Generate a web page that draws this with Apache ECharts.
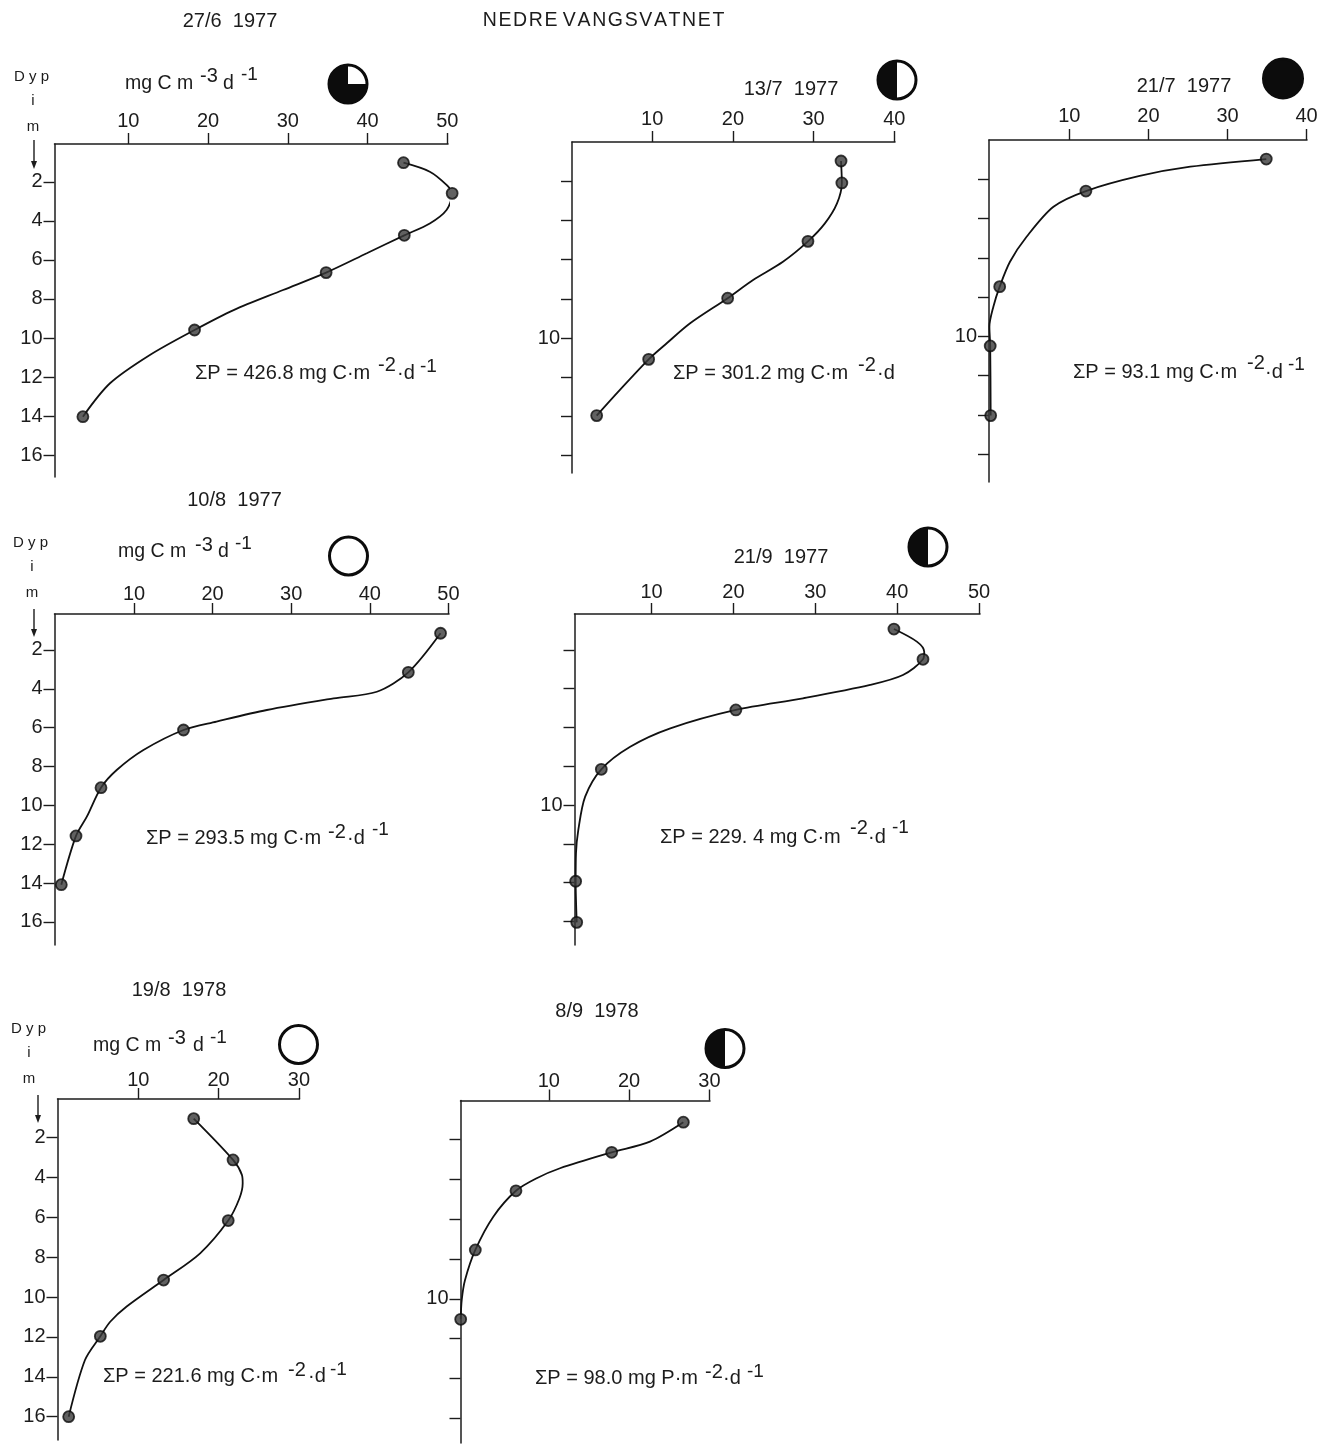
<!DOCTYPE html>
<html>
<head>
<meta charset="utf-8">
<style>html,body{margin:0;padding:0;background:#fff}#chart{width:1330px;height:1444px}</style>
<script src="https://cdn.jsdelivr.net/npm/echarts@6/dist/echarts.min.js"></script>
</head>
<body>
<div id="chart"></div>
<script>
// ---- data ----
const chartTitle = 'N\u200AE\u200AD\u200AR\u200AE V\u200AA\u200AN\u200AG\u200AS\u200AV\u200AA\u200AT\u200AN\u200AE\u200AT';
const depthTicks = [2, 4, 6, 8, 10, 12, 14, 16];
const depthLabelsFull = [2, 4, 6, 8, 10, 12, 14, 16];
const depthLabelsSparse = [10];
const xTicks50 = [10, 20, 30, 40, 50];
const xTicks40 = [10, 20, 30, 40];
const xTicks30 = [10, 20, 30];

// measured stations (production, depth)
const prod_27_6_77 = [44.5, 50.6, 44.6, 34.8, 18.3, 4.3];
const depth_27_6_77 = [1.02, 2.59, 4.74, 6.65, 9.59, 14.03];
const prod_13_7_77 = [33.4, 33.5, 29.3, 19.35, 9.56, 3.12];
const depth_13_7_77 = [0.97, 2.09, 5.07, 7.97, 11.09, 13.96];
const prod_21_7_77 = [34.9, 12.1, 1.2, 0, 0.06];
const depth_21_7_77 = [0.97, 2.6, 7.47, 10.49, 14.04];
const prod_10_8_77 = [49.0, 44.9, 16.3, 5.8, 2.62, 0.75];
const depth_10_8_77 = [1.14, 3.15, 6.12, 9.09, 11.57, 14.08];
const prod_21_9_77 = [39.6, 43.15, 20.3, 3.87, 0.74, 0.87];
const depth_21_9_77 = [0.93, 2.49, 5.1, 8.16, 13.93, 16.05];
const prod_19_8_78 = [16.9, 21.8, 21.2, 13.15, 5.27, 1.33];
const depth_19_8_78 = [1.06, 3.13, 6.17, 9.15, 11.97, 16.0];
const prod_8_9_78 = [26.75, 17.83, 5.92, 0.86, -0.96];
const depth_8_9_78 = [1.14, 2.65, 4.58, 7.55, 11.03];

// hand-drawn curves (production, depth)
const curveProd_27_6_77 = [44.5, 47.8, 49.9, 50.6, 49.9, 47.8, 44.6, 39.9, 34.8, 29.4, 23.2, 18.3, 12.7, 7.7, 4.3];
const curveDepth_27_6_77 = [1.02, 1.48, 2.16, 2.59, 3.44, 4.13, 4.74, 5.66, 6.65, 7.54, 8.57, 9.59, 10.87, 12.32, 14.03];
const curveProd_13_7_77 = [33.4, 33.5, 32.9, 31.4, 29.3, 26.2, 22.5, 19.35, 14.7, 11.8, 9.56, 6.0, 3.12];
const curveDepth_13_7_77 = [0.97, 2.09, 3.13, 4.15, 5.07, 6.11, 7.04, 7.97, 9.25, 10.27, 11.09, 12.65, 13.96];
const curveProd_21_7_77 = [34.9, 25.3, 18.9, 12.1, 8.0, 4.6, 2.5, 1.2, 0.4, -0.1, 0, 0.06];
const curveDepth_21_7_77 = [0.97, 1.36, 1.83, 2.6, 3.4, 4.93, 6.2, 7.47, 8.49, 9.51, 10.49, 14.04];
const curveProd_10_8_77 = [49.0, 44.9, 40.9, 35.4, 26.9, 20.5, 16.3, 11.2, 7.8, 5.8, 4.0, 2.62, 0.75];
const curveDepth_10_8_77 = [1.14, 3.15, 4.15, 4.49, 5.09, 5.69, 6.12, 7.15, 8.18, 9.09, 10.58, 11.57, 14.08];
const curveProd_21_9_77 = [39.6, 42.4, 43.3, 43.15, 40.7, 36.7, 28.5, 20.3, 12.3, 7.4, 3.87, 1.9, 1.06, 0.78, 0.74, 0.87];
const curveDepth_21_9_77 = [0.93, 1.58, 2.1, 2.49, 3.3, 3.81, 4.5, 5.1, 6.05, 7.0, 8.16, 9.57, 11.29, 12.49, 13.93, 16.05];
const curveProd_19_8_78 = [16.9, 21.8, 22.9, 23.0, 22.6, 21.2, 17.7, 13.15, 8.55, 6.5, 5.27, 3.36, 1.33];
const curveDepth_19_8_78 = [1.06, 3.13, 3.88, 4.3, 5.05, 6.17, 7.81, 9.15, 10.48, 11.24, 11.97, 13.16, 16.0];
const curveProd_8_9_78 = [26.75, 22.6, 17.83, 11.4, 8.5, 5.92, 3.1, 0.86, -0.42, -0.83, -0.96];
const curveDepth_8_9_78 = [1.14, 2.11, 2.65, 3.45, 3.95, 4.58, 5.88, 7.55, 9.06, 10.06, 11.03];

// ---- layout of each panel: frame in px, and px position of value 0 + px per unit ----
const panels = [
  {prod: prod_27_6_77, depth: depth_27_6_77, cx: curveProd_27_6_77, cy: curveDepth_27_6_77, xTicks: xTicks50, yLabels: depthLabelsFull, left: 54.5, right: 448, top: 144, bottom: 477, x0: 48.6, xs: 7.975, y0: 142.8, ys: 19.52, lm: 13},
  {prod: prod_13_7_77, depth: depth_13_7_77, cx: curveProd_13_7_77, cy: curveDepth_13_7_77, xTicks: xTicks40, yLabels: depthLabelsSparse, left: 572, right: 895, top: 142, bottom: 473, x0: 571.5, xs: 8.07, y0: 142, ys: 19.6, lm: 13},
  {prod: prod_21_7_77, depth: depth_21_7_77, cx: curveProd_21_7_77, cy: curveDepth_21_7_77, xTicks: xTicks40, yLabels: depthLabelsSparse, left: 989, right: 1307, top: 140, bottom: 482, x0: 990.2, xs: 7.91, y0: 140, ys: 19.63, lm: 14},
  {prod: prod_10_8_77, depth: depth_10_8_77, cx: curveProd_10_8_77, cy: curveDepth_10_8_77, xTicks: xTicks50, yLabels: depthLabelsFull, left: 54.5, right: 449, top: 614, bottom: 945, x0: 55.4, xs: 7.86, y0: 611.1, ys: 19.43, lm: 10},
  {prod: prod_21_9_77, depth: depth_21_9_77, cx: curveProd_21_9_77, cy: curveDepth_21_9_77, xTicks: xTicks50, yLabels: depthLabelsSparse, left: 574.5, right: 980, top: 614, bottom: 945, x0: 569.6, xs: 8.19, y0: 611, ys: 19.4, lm: 12},
  {prod: prod_19_8_78, depth: depth_19_8_78, cx: curveProd_19_8_78, cy: curveDepth_19_8_78, xTicks: xTicks30, yLabels: depthLabelsFull, left: 57.5, right: 299.5, top: 1099, bottom: 1440, x0: 58, xs: 8.03, y0: 1097.5, ys: 19.95, lm: 9},
  {prod: prod_8_9_78, depth: depth_8_9_78, cx: curveProd_8_9_78, cy: curveDepth_8_9_78, xTicks: xTicks30, yLabels: depthLabelsSparse, left: 460.5, right: 710, top: 1100.5, bottom: 1443, x0: 468.4, xs: 8.035, y0: 1099.5, ys: 19.93, lm: 9}
];

const INK = '#1c1c1c';
const FONT = '"Liberation Sans", Arial, sans-serif';
const grid = [], xAxis = [], yAxis = [], series = [];

panels.forEach(function (p, i) {
  grid.push({left: p.left, top: p.top, width: p.right - p.left, height: p.bottom - p.top, containLabel: false});
  xAxis.push({
    type: 'value', gridIndex: i, position: 'top',
    min: (p.left - p.x0) / p.xs, max: (p.right - p.x0) / p.xs,
    splitLine: {show: false},
    axisLine: {show: true, onZero: false, lineStyle: {color: INK, width: 1.5}},
    axisTick: {show: true, inside: false, length: 11, customValues: p.xTicks, lineStyle: {color: INK, width: 1.4}},
    axisLabel: {show: true, margin: p.lm, customValues: p.xTicks, color: INK, fontSize: 20, fontFamily: FONT, hideOverlap: false}
  });
  yAxis.push({
    type: 'value', gridIndex: i, inverse: true, position: 'left',
    min: (p.top - p.y0) / p.ys, max: (p.bottom - p.y0) / p.ys,
    splitLine: {show: false},
    axisLine: {show: true, onZero: false, lineStyle: {color: INK, width: 1.5}},
    axisTick: {show: true, inside: false, length: 11, customValues: depthTicks, lineStyle: {color: INK, width: 1.4}},
    axisLabel: {show: true, margin: 12, customValues: p.yLabels, color: INK, fontSize: 20, fontFamily: FONT, hideOverlap: false}
  });
  series.push({
    type: 'line', xAxisIndex: i, yAxisIndex: i, clip: false, animation: false, silent: true,
    smooth: 0.3, symbol: 'none', z: 3,
    lineStyle: {color: '#111', width: 1.8},
    data: p.cx.map(function (v, k) { return [v, p.cy[k]]; })
  });
  series.push({
    type: 'scatter', xAxisIndex: i, yAxisIndex: i, clip: false, animation: false, silent: true,
    symbol: 'circle', symbolSize: 11, z: 4,
    itemStyle: {color: '#3a3a3a', borderColor: '#0c0c0c', borderWidth: 1.8},
    data: p.prod.map(function (v, k) { return [v, p.depth[k]]; })
  });
});

// ---- annotation helpers ----
const g = [];
function txt(x, y, s, size, align) {
  g.push({type: 'text', x: x, y: y, silent: true, z: 5, style: {text: s, fill: INK, font: (size || 19) + 'px ' + FONT, textAlign: align || 'left', textVerticalAlign: 'middle'}});
}
function moon(cx, cy, r, kind) {
  g.push({type: 'circle', silent: true, z: 4, shape: {cx: cx, cy: cy, r: r - 1.5}, style: {fill: kind === 'full' ? '#0c0c0c' : '#fff', stroke: '#0c0c0c', lineWidth: 3}});
  if (kind === 'half') g.push({type: 'sector', silent: true, z: 4, shape: {cx: cx, cy: cy, r0: 0, r: r - 1, startAngle: Math.PI / 2, endAngle: Math.PI * 1.5, clockwise: true}, style: {fill: '#0c0c0c'}});
  if (kind === 'three') g.push({type: 'sector', silent: true, z: 4, shape: {cx: cx, cy: cy, r0: 0, r: r - 1, startAngle: 0, endAngle: Math.PI * 1.5, clockwise: true}, style: {fill: '#0c0c0c'}});
}
function arrow(x, y1, y2) {
  g.push({type: 'line', silent: true, z: 4, shape: {x1: x, y1: y1, x2: x, y2: y2 - 4}, style: {stroke: INK, lineWidth: 1.4}});
  g.push({type: 'polygon', silent: true, z: 4, shape: {points: [[x - 3, y2 - 8], [x + 3, y2 - 8], [x, y2]]}, style: {fill: INK}});
}
function depthHead(dx, dy, ix, iy, mx, my, ax, a1, a2) {
  txt(dx, dy, 'D y p', 15);
  txt(ix, iy, 'i', 15, 'center');
  txt(mx, my, 'm', 15, 'center');
  arrow(ax, a1, a2);
}
function unit(x, y, x3, y3, xd, xm1, ym1) {
  txt(x, y, 'mg C m', 19.5);
  txt(x3, y3, '-3', 20);
  txt(xd, y, 'd', 19.5);
  txt(xm1, ym1, '-1', 19);
}
function sum(x, y, s, x2, y2, xd, d, xm1, ym1) {
  txt(x, y, s, 20);
  txt(x2, y2, '-2', 20);
  txt(xd, y, d, 20);
  if (xm1) txt(xm1, ym1, '-1', 19);
}
const gap = '  ';

// header
txt(230, 21, '27/6' + gap + '1977', 20, 'center');
txt(603.5, 21, chartTitle, 19.5, 'center');

// panel 1
depthHead(14, 77, 33, 101, 33, 127, 34, 140, 169);
unit(125, 84, 200, 76, 223, 241, 75);
moon(348, 84, 20.5, 'three');
sum(195, 373, '\u03A3P = 426.8 mg C\u00B7m', 378, 365, 397, '\u00B7d', 420, 367);
// panel 2
txt(791, 89, '13/7' + gap + '1977', 20, 'center');
moon(897, 80, 20.5, 'half');
sum(673, 373, '\u03A3P = 301.2 mg C\u00B7m', 858, 365, 877, '\u00B7d');
// panel 3
txt(1184, 86, '21/7' + gap + '1977', 20, 'center');
moon(1283, 78.5, 21, 'full');
sum(1073, 372, '\u03A3P = 93.1 mg C\u00B7m', 1247, 363, 1265, '\u00B7d', 1288, 365);
// panel 4
txt(234.5, 500, '10/8' + gap + '1977', 20, 'center');
depthHead(13, 543, 32, 567, 32, 593, 34, 609, 637);
unit(118, 552, 195, 545, 218, 235, 544);
moon(348.5, 556, 20.5, 'empty');
sum(146, 838, '\u03A3P = 293.5 mg C\u00B7m', 328, 832, 347, '\u00B7d', 372, 830);
// panel 5
txt(781, 557, '21/9' + gap + '1977', 20, 'center');
moon(928, 547, 20.5, 'half');
sum(660, 837, '\u03A3P = 229. 4 mg C\u00B7m', 850, 828, 868, '\u00B7d', 892, 828);
// panel 6
txt(179, 990, '19/8' + gap + '1978', 20, 'center');
depthHead(11, 1029, 29, 1053, 29, 1079, 38, 1095, 1123);
unit(93, 1046, 168, 1038, 193, 210, 1038);
moon(298.5, 1044.5, 20.5, 'empty');
sum(103, 1376, '\u03A3P = 221.6 mg C\u00B7m', 288, 1370, 308, '\u00B7d', 330, 1370);
// panel 7
txt(597, 1011, '8/9' + gap + '1978', 20, 'center');
moon(725, 1048.5, 20.5, 'half');
sum(535, 1378, '\u03A3P = 98.0 mg P\u00B7m', 705, 1372, 723, '\u00B7d', 747, 1372);

const chart = echarts.init(document.getElementById('chart'), null, {renderer: 'canvas'});
chart.setOption({
  backgroundColor: '#ffffff',
  animation: false,
  grid: grid, xAxis: xAxis, yAxis: yAxis, series: series,
  graphic: {elements: g}
});
</script>
</body>
</html>
